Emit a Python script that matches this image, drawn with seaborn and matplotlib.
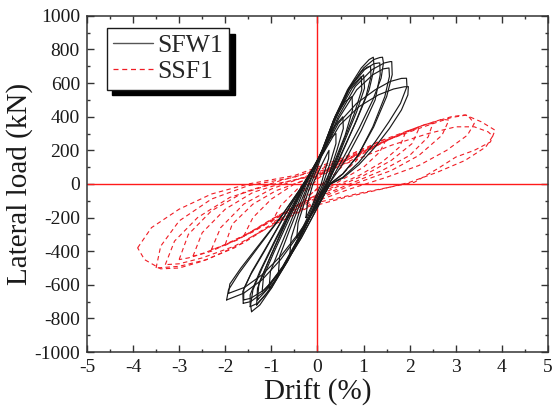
import numpy as np
import pandas as pd
import matplotlib
matplotlib.use("Agg")
import matplotlib.pyplot as plt
from matplotlib.lines import Line2D
from matplotlib.ticker import MultipleLocator
import seaborn as sns

# ---------------- data ----------------
series_names = ["SFW1", "SSF1"]
x_ticks = [-5, -4, -3, -2, -1, 0, 1, 2, 3, 4, 5]
y_ticks = [-1000, -800, -600, -400, -200, 0, 200, 400, 600, 800, 1000]

# SFW1 hysteresis cycles (drift %, load kN): negative tip -> positive tip -> negative tip
sfw1_drift = [
    [-0.25, -0.22, -0.10, 0.00, 0.12, 0.22, 0.25, 0.24, 0.15, 0.08, 0.00, -0.12, -0.22, -0.25],
    [-0.45, -0.42, -0.28, -0.14, 0.00, 0.12, 0.26, 0.40, 0.40, 0.28, 0.12, 0.00, -0.15, -0.32, -0.45],
    [-0.60, -0.57, -0.40, -0.18, 0.00, 0.15, 0.33, 0.55, 0.56, 0.42, 0.18, 0.00, -0.20, -0.42, -0.60],
    [-0.85, -0.82, -0.60, -0.35, -0.20, 0.00, 0.10, 0.35, 0.60, 0.75, 0.76, 0.60, 0.35, 0.15, 0.00, -0.25, -0.55, -0.85],
    [-1.05, -1.02, -0.80, -0.50, -0.24, 0.00, 0.12, 0.38, 0.68, 0.95, 0.96, 0.80, 0.50, 0.20, 0.00, -0.30, -0.65, -0.90, -1.05],
    [-1.20, -1.17, -0.95, -0.60, -0.26, 0.00, 0.14, 0.42, 0.75, 1.00, 1.02, 0.85, 0.55, 0.22, 0.00, -0.35, -0.75, -1.05, -1.20],
    [-1.32, -1.30, -1.05, -0.70, -0.28, 0.00, 0.10, 0.35, 0.65, 0.95, 1.12, 1.21, 1.23, 1.12, 0.85, 0.50, 0.22, 0.00, -0.35, -0.75, -1.10, -1.32],
    [-1.30, -1.27, -1.00, -0.65, -0.27, 0.00, 0.12, 0.38, 0.68, 0.95, 1.08, 1.15, 1.16, 1.05, 0.80, 0.48, 0.20, 0.00, -0.35, -0.75, -1.10, -1.30],
    [-1.43, -1.45, -1.40, -1.20, -0.90, -0.55, -0.30, 0.00, 0.12, 0.40, 0.70, 1.00, 1.22, 1.35, 1.41, 1.43, 1.38, 1.20, 0.90, 0.55, 0.25, 0.00, -0.30, -0.65, -1.00, -1.25, -1.43],
    [-1.46, -1.46, -1.25, -0.95, -0.60, -0.30, 0.00, 0.12, 0.40, 0.72, 1.02, 1.22, 1.33, 1.35, 1.36, 1.25, 0.95, 0.60, 0.25, 0.00, -0.30, -0.65, -1.00, -1.30, -1.46],
    [-1.61, -1.62, -1.45, -1.15, -0.80, -0.55, -0.31, 0.00, 0.14, 0.45, 0.82, 1.18, 1.45, 1.58, 1.61, 1.62, 1.50, 1.22, 0.88, 0.55, 0.27, 0.00, -0.35, -0.75, -1.15, -1.45, -1.61],
    [-1.60, -1.60, -1.42, -1.12, -0.78, -0.53, -0.30, 0.00, 0.14, 0.46, 0.85, 1.20, 1.43, 1.55, 1.56, 1.46, 1.20, 0.88, 0.55, 0.27, 0.00, -0.35, -0.75, -1.15, -1.45, -1.60],
    [-1.97, -1.93, -1.70, -1.35, -1.05, -0.80, -0.55, -0.30, 0.00, 0.12, 0.45, 0.85, 1.25, 1.58, 1.82, 1.93, 1.94, 1.80, 1.55, 1.25, 0.90, 0.55, 0.28, 0.00, -0.40, -0.80, -1.20, -1.60, -1.97],
    [-1.93, -1.90, -1.66, -1.32, -1.02, -0.78, -0.54, -0.30, 0.00, 0.13, 0.48, 0.90, 1.32, 1.65, 1.88, 1.97, 1.96, 1.82, 1.56, 1.25, 0.90, 0.55, 0.28, 0.00, -0.40, -0.80, -1.20, -1.58, -1.93],
]
sfw1_load = [
    [-200, -120, 0, 60, 130, 185, 200, 150, 70, 0, -50, -130, -185, -200],
    [-320, -230, -110, 0, 100, 190, 270, 300, 240, 130, 0, -70, -160, -260, -320],
    [-420, -320, -170, 0, 120, 230, 330, 400, 330, 200, 0, -90, -210, -330, -420],
    [-540, -430, -270, -100, 0, 130, 200, 380, 490, 520, 440, 290, 120, 0, -90, -240, -400, -540],
    [-620, -520, -370, -170, 0, 140, 210, 400, 560, 640, 560, 420, 210, 0, -100, -280, -460, -570, -620],
    [-640, -550, -410, -200, 0, 140, 220, 410, 570, 650, 570, 430, 230, 0, -110, -300, -490, -600, -640],
    [-720, -620, -450, -230, 0, 145, 200, 380, 560, 690, 740, 754, 690, 560, 380, 170, 0, -110, -300, -500, -650, -720],
    [-690, -590, -420, -210, 0, 140, 205, 400, 570, 670, 695, 700, 640, 520, 350, 150, 0, -100, -290, -490, -630, -690],
    [-760, -720, -630, -500, -330, -150, 0, 140, 200, 390, 570, 690, 740, 752, 754, 720, 630, 500, 330, 150, 0, -100, -260, -450, -620, -720, -760],
    [-730, -660, -520, -350, -160, 0, 140, 205, 400, 580, 680, 715, 720, 720, 650, 500, 320, 140, 0, -110, -270, -460, -620, -710, -730],
    [-710, -640, -540, -400, -230, -110, 0, 135, 200, 400, 580, 680, 720, 728, 728, 650, 520, 340, 170, 60, 0, -140, -320, -500, -640, -700, -710],
    [-690, -625, -520, -380, -220, -105, 0, 130, 195, 390, 560, 650, 685, 690, 640, 520, 340, 170, 60, 0, -140, -320, -500, -630, -680, -690],
    [-690, -630, -530, -400, -290, -200, -100, 0, 130, 190, 360, 480, 560, 610, 628, 629, 580, 480, 370, 250, 130, 40, 0, -130, -300, -450, -570, -650, -690],
    [-651, -595, -500, -380, -275, -190, -95, 0, 125, 185, 350, 460, 530, 565, 578, 579, 530, 440, 330, 220, 115, 35, 0, -125, -290, -430, -540, -615, -651],
]

# SSF1 hysteresis cycles (drift %, load kN)
ssf1_drift = [
    [-0.30, -0.15, 0.00, 0.15, 0.30, 0.25, 0.10, 0.00, -0.15, -0.30],
    [-0.60, -0.45, -0.20, 0.00, 0.25, 0.45, 0.60, 0.52, 0.30, 0.10, -0.10, -0.35, -0.60],
    [-1.00, -0.80, -0.40, 0.00, 0.50, 0.80, 1.00, 0.85, 0.50, 0.20, -0.20, -0.60, -1.00],
    [-1.60, -1.40, -1.00, -0.50, 0.00, 0.50, 1.00, 1.30, 1.50, 1.35, 1.00, 0.50, 0.00, -0.50, -1.00, -1.40, -1.60],
    [-2.00, -1.85, -1.40, -0.90, -0.40, 0.20, 0.80, 1.30, 1.65, 1.90, 1.78, 1.40, 0.90, 0.40, -0.20, -0.80, -1.40, -1.75, -2.00],
    [-2.30, -2.10, -1.60, -1.00, -0.40, 0.30, 1.00, 1.60, 2.00, 2.20, 2.05, 1.60, 1.00, 0.40, -0.30, -1.00, -1.60, -2.00, -2.30],
    [-2.70, -2.50, -2.00, -1.40, -0.70, 0.00, 0.70, 1.40, 2.00, 2.35, 2.50, 2.40, 2.00, 1.40, 0.70, 0.00, -0.70, -1.40, -2.00, -2.45, -2.70],
    [-3.00, -2.80, -2.30, -1.60, -0.80, 0.00, 0.80, 1.60, 2.30, 2.70, 2.85, 2.70, 2.20, 1.60, 0.80, 0.00, -0.80, -1.60, -2.30, -2.80, -3.00],
    [-3.50, -3.40, -3.00, -2.30, -1.50, -0.50, 0.50, 1.50, 2.30, 2.90, 3.25, 3.40, 3.25, 2.80, 2.20, 1.50, 0.70, 0.00, -0.80, -1.60, -2.40, -3.00, -3.50],
    [-3.90, -3.60, -3.00, -2.30, -1.50, -0.50, 0.50, 1.50, 2.30, 2.90, 3.20, 3.55, 3.85, 3.75, 3.40, 3.00, 2.60, 2.10, 1.00, 0.00, -1.00, -1.80, -2.50, -3.00, -3.40, -3.75, -3.90],
    [-3.30, -3.10, -2.60, -1.90, -1.10, -0.20, 0.70, 1.60, 2.40, 3.00, 3.40, 3.70, 3.80, 3.65, 3.20, 2.60, 2.00, 1.40, 0.60, -0.20, -1.00, -1.80, -2.50, -3.00, -3.30],
]
ssf1_load = [
    [-80, -20, 30, 60, 80, 40, 0, -30, -60, -80],
    [-160, -90, -10, 40, 90, 130, 150, 100, 40, 0, -50, -110, -160],
    [-230, -130, -20, 50, 130, 185, 210, 140, 50, -20, -100, -180, -230],
    [-310, -200, -90, 0, 50, 120, 200, 250, 270, 190, 100, 20, -60, -140, -220, -285, -310],
    [-360, -240, -120, -40, 10, 70, 150, 230, 280, 300, 220, 130, 50, -10, -90, -180, -280, -335, -360],
    [-390, -260, -120, -30, 30, 100, 190, 270, 320, 330, 240, 140, 50, -20, -110, -210, -310, -365, -390],
    [-430, -290, -150, -50, 10, 60, 150, 250, 320, 355, 360, 280, 170, 80, 0, -80, -170, -280, -360, -410, -430],
    [-450, -300, -160, -50, 20, 80, 170, 270, 350, 385, 380, 290, 170, 80, 0, -90, -190, -310, -400, -440, -450],
    [-500, -370, -220, -90, -10, 40, 140, 260, 340, 395, 411, 360, 290, 200, 110, 40, -30, -100, -210, -350, -450, -490, -500],
    [-380, -260, -150, -60, 0, 50, 150, 270, 350, 400, 411, 370, 320, 250, 200, 160, 90, 10, -50, -110, -240, -380, -460, -500, -505, -450, -380],
    [-480, -340, -200, -80, -10, 40, 130, 230, 300, 340, 340, 310, 285, 220, 140, 70, 10, -30, -80, -140, -250, -370, -440, -475, -480],
]

# ---------------- tidy table ----------------
rows = []
for name, dlist, llist in [("SFW1", sfw1_drift, sfw1_load), ("SSF1", ssf1_drift, ssf1_load)]:
    for c, (d, l) in enumerate(zip(dlist, llist)):
        for k, (xx, yy) in enumerate(zip(d, l)):
            rows.append({"specimen": name, "cycle": c, "order": k, "drift": xx, "load": yy})
df = pd.DataFrame(rows)

# ---------------- style ----------------
sns.set_style("ticks")
plt.rcParams["font.family"] = ["Liberation Serif", "DejaVu Serif"]
plt.rcParams["axes.unicode_minus"] = False

fig = plt.figure(figsize=(5.57, 4.07), dpi=100)
ax = fig.add_axes([0.156, 0.135, 0.828, 0.826])

ax.axhline(0, color="#ff1a1a", lw=1.0, zorder=1)
ax.axvline(0, color="#ff1a1a", lw=1.0, zorder=1)

sns.lineplot(data=df[df.specimen == "SSF1"], x="drift", y="load", units="cycle",
             estimator=None, sort=False, color="#f01c24", lw=0.8,
             linestyle=(0, (4, 3)), ax=ax, zorder=2)
sns.lineplot(data=df[df.specimen == "SFW1"], x="drift", y="load", units="cycle",
             estimator=None, sort=False, color="#1a1a1a", lw=0.85,
             ax=ax, zorder=3)

ax.set_xlim(-5, 5)
ax.set_ylim(-1000, 1000)
ax.set_xticks(x_ticks)
ax.set_yticks(y_ticks)
ax.xaxis.set_minor_locator(MultipleLocator(0.5))
ax.yaxis.set_minor_locator(MultipleLocator(100))
ax.tick_params(which="both", direction="in", top=True, right=True,
               color="#333333", width=1.0, labelsize=14, labelcolor="#1a1a1a", pad=5)
ax.tick_params(which="major", length=5)
ax.tick_params(which="minor", length=2.5)
for s in ax.spines.values():
    s.set_color("#333333")
    s.set_linewidth(1.1)

ax.set_xlabel("Drift (%)", fontsize=21, color="#1a1a1a", labelpad=2)
ax.set_ylabel("Lateral load (kN)", fontsize=21, color="#1a1a1a", labelpad=1)

handles = [Line2D([], [], color="#555555", lw=1.0),
           Line2D([], [], color="#f01c24", lw=0.9, linestyle=(0, (4, 3)))]
leg = ax.legend(handles, series_names, loc="upper left", bbox_to_anchor=(0.043, 0.964),
                borderaxespad=0, fontsize=18.5, handlelength=1.55, handletextpad=0.15,
                labelspacing=0.12, borderpad=0.25, fancybox=False, framealpha=1,
                edgecolor="#1a1a1a",
                shadow={"ox": 4, "oy": -4, "facecolor": "black", "edgecolor": "black", "alpha": 1})
leg.get_frame().set_linewidth(1.0)

fig.savefig("out.png", dpi=100)
